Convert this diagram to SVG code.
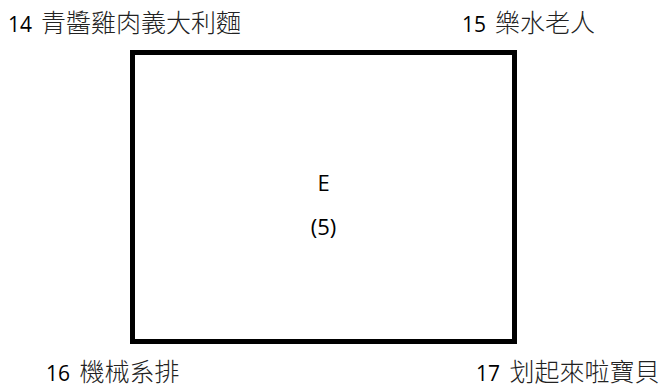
<svg xmlns="http://www.w3.org/2000/svg" width="671" height="387" viewBox="0 0 671 387">
<style>
.lbl{font-family:"Open Sans","Noto Sans CJK TC",sans-serif;font-size:21px;fill:#000}
.cjk{font-family:"Noto Sans CJK TC","Noto Sans CJK SC",sans-serif;font-size:25px;font-weight:300;fill:#222}
.ctr{font-family:"Open Sans",sans-serif;font-size:22px;fill:#000;text-anchor:middle}
.box{fill:#fff;stroke:#000;stroke-width:5}
</style>
<rect width="671" height="387" fill="#fff"/>
<g id="nodeE">
<rect class="box" x="132.5" y="52.5" width="382" height="289"/>
<text class="ctr" x="323.5" y="191">E</text>
<text class="ctr" x="323.5" y="235">(5)</text>
</g>
<g id="label14"><text class="lbl" x="8" y="32">14<tspan class="cjk" x="41">青醬雞肉義大利麵</tspan></text></g>
<g id="label15"><text class="lbl" x="462" y="32">15<tspan class="cjk" x="495">樂水老人</tspan></text></g>
<g id="label16"><text class="lbl" x="46" y="381">16<tspan class="cjk" x="79.5">機械系排</tspan></text></g>
<g id="label17"><text class="lbl" x="476" y="381">17<tspan class="cjk" x="509.5">划起來啦寶貝</tspan></text></g>
<g id="connectors"></g>
</svg>
